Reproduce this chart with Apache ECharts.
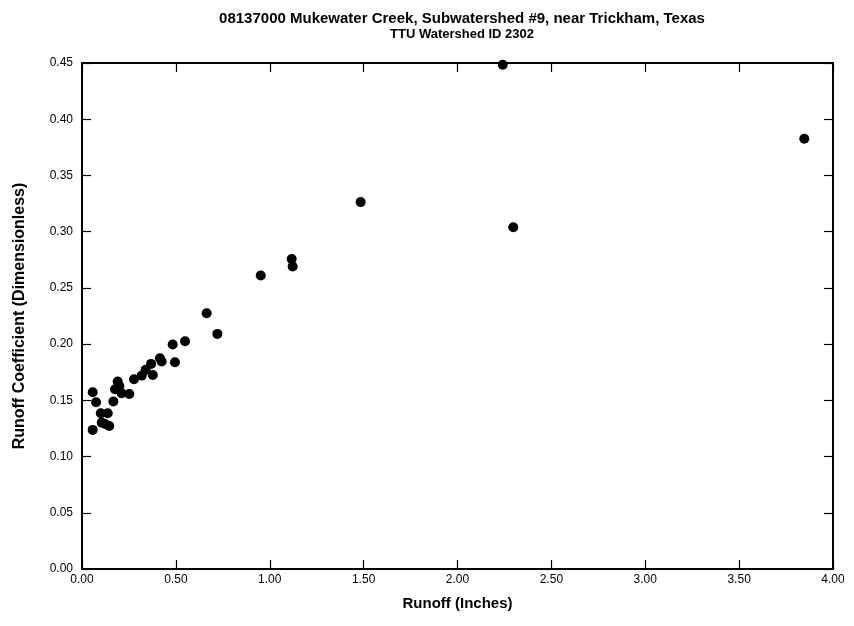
<!DOCTYPE html>
<html><head><meta charset="utf-8">
<script src="https://cdn.jsdelivr.net/npm/echarts@6/dist/echarts.min.js"></script>
<style>html,body{margin:0;padding:0;background:#fff}#c{width:854px;height:626px}</style>
</head><body><div id="c"></div>
<script>
const runoff = [0.057,0.057,0.075,0.100,0.105,0.123,0.137,0.145,0.167,0.176,0.190,0.199,0.211,0.252,0.277,0.318,0.339,0.368,0.377,0.415,0.424,0.483,0.495,0.549,0.664,0.721,0.952,1.117,1.122,1.484,2.241,2.297,3.847];
const coeff  = [0.1572,0.1237,0.1483,0.1385,0.1302,0.1290,0.1385,0.1272,0.1489,0.1599,0.1667,0.1628,0.1563,0.1557,0.1688,0.1720,0.1771,0.1824,0.1726,0.1875,0.1845,0.1996,0.1839,0.2026,0.2275,0.2091,0.2610,0.2756,0.2690,0.3263,0.4485,0.3040,0.3826];
const xTicks = ['0.00','0.50','1.00','1.50','2.00','2.50','3.00','3.50','4.00'];
const titleText = '08137000 Mukewater Creek, Subwatershed #9, near Trickham, Texas';
const subText = 'TTU Watershed ID 2302';
const xName = 'Runoff (Inches)';
const yName = 'Runoff Coefficient (Dimensionless)';

const font = 'Liberation Sans, Arial, sans-serif';
const chart = echarts.init(document.getElementById('c'), null, {renderer:'canvas'});
const axLine = {show:true, onZero:false, lineStyle:{color:'#000', width:2}};
const tick = {show:true, inside:true, length:9, lineStyle:{color:'#000', width:1.2}};
chart.setOption({
  animation:false,
  title:{text:titleText, subtext:subText, left:457, textAlign:'center', top:6, itemGap:2,
    textStyle:{fontFamily:font, fontSize:15, fontWeight:'bold', color:'#000'},
    subtextStyle:{fontFamily:font, fontSize:13, fontWeight:'bold', color:'#000'}},
  grid:{left:82, right:21, top:63, bottom:57},
  xAxis:[{type:'value', min:0, max:4, interval:0.5, axisLine:axLine, axisTick:tick, splitLine:{show:false},
    axisLabel:{fontFamily:font, fontSize:12, color:'#000', margin:5, formatter:(v)=>xTicks[Math.round(v*2)]},
    name:xName, nameLocation:'middle', nameGap:27, nameTextStyle:{fontFamily:font, fontSize:15, fontWeight:'bold', color:'#000'}},
    {type:'value', position:'top', min:0, max:4, interval:0.5, axisLine:axLine, axisTick:tick, axisLabel:{show:false}, splitLine:{show:false}}],
  yAxis:[{type:'value', min:0, max:0.45, interval:0.05, axisLine:axLine, axisTick:tick, splitLine:{show:false},
    axisLabel:{fontFamily:font, fontSize:12, color:'#000', margin:9, formatter:(v)=>v.toFixed(2)},
    name:yName, nameLocation:'middle', nameGap:54, nameTextStyle:{fontFamily:font, fontSize:16, fontWeight:'bold', color:'#000'}},
    {type:'value', position:'right', min:0, max:0.45, interval:0.05, axisLine:axLine, axisTick:tick, axisLabel:{show:false}, splitLine:{show:false}}],
  series:[{type:'scatter', symbol:'circle', symbolSize:10, itemStyle:{color:'#000', opacity:1},
    data: runoff.map((x,i)=>[x, coeff[i]])}]
});
</script></body></html>
